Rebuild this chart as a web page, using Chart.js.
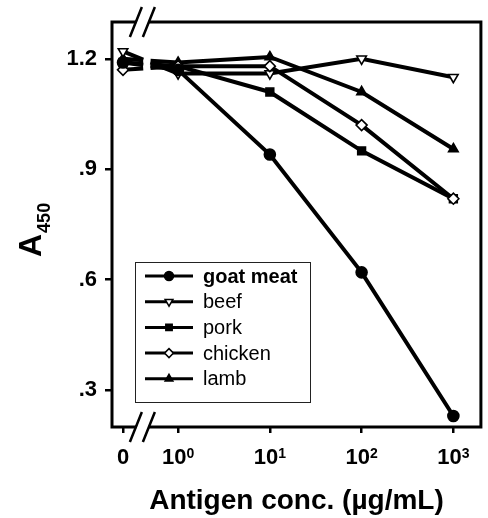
<!DOCTYPE html>
<html>
<head>
<meta charset="utf-8">
<script src="https://cdn.jsdelivr.net/npm/chart.js@4/dist/chart.umd.min.js"></script>
<style>
  html, body { margin: 0; padding: 0; background: #fff; }
  #c { display: block; }
</style>
</head>
<body>
<canvas id="c" width="488" height="518"></canvas>
<script>
// Data
const conc = [0, 1, 10, 100, 1000];
const tickBase = ['0', '10', '10', '10', '10'];
const tickExp = ['', '0', '1', '2', '3'];
const goatMeat = [1.19, 1.17, 0.94, 0.62, 0.23];
const beef = [1.22, 1.16, 1.16, 1.20, 1.15];
const pork = [1.19, 1.18, 1.11, 0.95, 0.82];
const chicken = [1.17, 1.18, 1.18, 1.02, 0.82];
const lamb = [1.20, 1.19, 1.205, 1.11, 0.955];
const yTicks = [0.3, 0.6, 0.9, 1.2];
const yTickLabels = ['.3', '.6', '.9', '1.2'];

// x axis: log decades, "0" placed left of the axis break
const ZERO_POS = -0.6;
const GAP = [-0.38, -0.30];
const toAxis = c => c === 0 ? ZERO_POS : Math.log10(c);
const xTicks = conc.map(toAxis);

const FONT = "'Liberation Sans', Arial, sans-serif";

function series(label, values, style, rot, fill, order) {
  return {
    label: label,
    order: order,
    data: values.map((v, i) => ({ x: toAxis(conc[i]), y: v })),
    borderColor: '#000',
    borderWidth: 4,
    pointStyle: style,
    pointRotation: rot,
    pointRadius: 5.5,
    pointBorderWidth: 1.6,
    pointBackgroundColor: fill,
    pointBorderColor: '#000',
    tension: 0,
    segment: { borderColor: ctx => ctx.p0DataIndex === 0 ? 'rgba(0,0,0,0)' : '#000' }
  };
}

// draws the broken first segment (0 -> 10^0) around the axis break
const breakStubs = {
  id: 'breakStubs',
  beforeDatasetsDraw(chart) {
    const ctx = chart.ctx, xs = chart.scales.x;
    const g0 = xs.getPixelForValue(GAP[0]), g1 = xs.getPixelForValue(GAP[1]);
    ctx.save();
    ctx.strokeStyle = '#000';
    ctx.lineWidth = 4;
    chart.data.datasets.forEach((ds, i) => {
      const pts = chart.getDatasetMeta(i).data;
      const a = pts[0], b = pts[1];
      const yAt = x => a.y + (b.y - a.y) * (x - a.x) / (b.x - a.x);
      ctx.beginPath();
      ctx.moveTo(a.x, a.y); ctx.lineTo(g0, yAt(g0));
      ctx.moveTo(g1, yAt(g1)); ctx.lineTo(b.x, b.y);
      ctx.stroke();
    });
    ctx.restore();
  }
};

function marker(ctx, style, rot, fill, x, y, r) {
  if (Chart.helpers && Chart.helpers.drawPoint) {
    ctx.fillStyle = fill;
    ctx.strokeStyle = '#000';
    ctx.lineWidth = 1.5;
    Chart.helpers.drawPoint(ctx, { pointStyle: style, rotation: rot, radius: r, borderWidth: 1.5 }, x, y);
  }
}

// frame, axis break marks, x tick labels, y title, legend
const decor = {
  id: 'decor',
  afterDraw(chart) {
    const ctx = chart.ctx, a = chart.chartArea, xs = chart.scales.x;
    ctx.save();
    ctx.strokeStyle = '#000';
    ctx.lineWidth = 3;
    ctx.strokeRect(a.left, a.top, a.right - a.left, a.bottom - a.top);

    // axis break //
    const bx = xs.getPixelForValue((GAP[0] + GAP[1]) / 2);
    [a.top, a.bottom].forEach(yy => {
      ctx.fillStyle = '#fff';
      ctx.beginPath();
      ctx.moveTo(bx - 16, yy + 15); ctx.lineTo(bx - 4, yy - 15);
      ctx.lineTo(bx + 8, yy - 15); ctx.lineTo(bx - 4, yy + 15);
      ctx.closePath();
      ctx.fill();
      ctx.lineWidth = 2.5;
      ctx.beginPath();
      ctx.moveTo(bx - 17, yy + 15); ctx.lineTo(bx - 5, yy - 15);
      ctx.moveTo(bx - 4, yy + 15); ctx.lineTo(bx + 8, yy - 15);
      ctx.stroke();
    });

    // x tick labels with superscript exponents
    ctx.fillStyle = '#000';
    ctx.textBaseline = 'alphabetic';
    ctx.textAlign = 'left';
    xTicks.forEach((v, i) => {
      const px = xs.getPixelForValue(v);
      ctx.font = 'bold 22px ' + FONT;
      const wb = ctx.measureText(tickBase[i]).width;
      ctx.font = 'bold 14px ' + FONT;
      const we = tickExp[i] ? ctx.measureText(tickExp[i]).width : 0;
      const x0 = px - (wb + we) / 2;
      ctx.font = 'bold 22px ' + FONT;
      ctx.fillText(tickBase[i], x0, 464);
      if (tickExp[i]) {
        ctx.font = 'bold 14px ' + FONT;
        ctx.fillText(tickExp[i], x0 + wb, 458);
      }
    });

    // y title A450
    ctx.translate(41, 257);
    ctx.rotate(-Math.PI / 2);
    ctx.font = 'bold 32px ' + FONT;
    ctx.fillText('A', 0, 0);
    const w = ctx.measureText('A').width;
    ctx.font = 'bold 18px ' + FONT;
    ctx.fillText('450', w + 1, 9);
    ctx.setTransform(1, 0, 0, 1, 0, 0);

    // legend box
    const lx = 135, ly = 262, lw = 175, lh = 140;
    ctx.lineWidth = 1;
    ctx.strokeStyle = '#222';
    ctx.strokeRect(lx + 0.5, ly + 0.5, lw, lh);
    chart.data.datasets.forEach((ds, i) => {
      const y = 276 + i * 25.7;
      ctx.strokeStyle = '#000';
      ctx.lineWidth = 3;
      ctx.beginPath();
      ctx.moveTo(145, y); ctx.lineTo(193, y);
      ctx.stroke();
      marker(ctx, ds.pointStyle, ds.pointRotation, ds.pointBackgroundColor, 169, y, 4.5);
      ctx.fillStyle = '#000';
      ctx.font = (i === 0 ? 'bold ' : '') + '20px ' + FONT;
      ctx.textBaseline = 'middle';
      ctx.fillText(ds.label, 203, y + 1);
    });
    ctx.restore();
  }
};

new Chart(document.getElementById('c'), {
  type: 'line',
  data: {
    datasets: [
      series('goat meat', goatMeat, 'circle', 0, '#000', 0),
      series('beef', beef, 'triangle', 180, '#fff', 2),
      series('pork', pork, 'rect', 0, '#000', 3),
      series('chicken', chicken, 'rectRot', 0, '#fff', 1),
      series('lamb', lamb, 'triangle', 0, '#000', 4)
    ]
  },
  options: {
    responsive: false,
    animation: false,
    layout: { padding: { left: 0, right: 6, top: 22, bottom: 0 } },
    plugins: { legend: { display: false }, tooltip: { enabled: false } },
    scales: {
      x: {
        type: 'linear',
        min: -0.72,
        max: 3.30,
        afterBuildTicks: s => { s.ticks = xTicks.map(v => ({ value: v })); },
        afterFit: s => { s.height = 91; },
        ticks: {
          autoSkip: false,
          maxRotation: 0,
          padding: 6,
          color: 'rgba(0,0,0,0)',
          font: { family: FONT, size: 21, weight: 'bold' },
          callback: (v, i) => tickBase[i] + tickExp[i]
        },
        grid: { drawOnChartArea: false, drawTicks: true, tickLength: 6, lineWidth: 2.5, tickColor: '#000' },
        border: { display: false },
        title: {
          display: true,
          text: 'Antigen conc. (\u00B5g/mL)',
          color: '#000',
          font: { family: FONT, size: 28, weight: 'bold' },
          padding: { top: 2, bottom: 0 }
        }
      },
      y: {
        min: 0.2,
        max: 1.3,
        afterBuildTicks: s => { s.ticks = yTicks.map(v => ({ value: v })); },
        afterFit: s => { s.width = 112; },
        ticks: {
          padding: 8,
          color: '#000',
          font: { family: FONT, size: 22, weight: 'bold' },
          callback: (v, i) => yTickLabels[i]
        },
        grid: { drawOnChartArea: false, drawTicks: true, tickLength: 7, lineWidth: 2.5, tickColor: '#000' },
        border: { display: false }
      }
    }
  },
  plugins: [breakStubs, decor]
});
</script>
</body>
</html>
